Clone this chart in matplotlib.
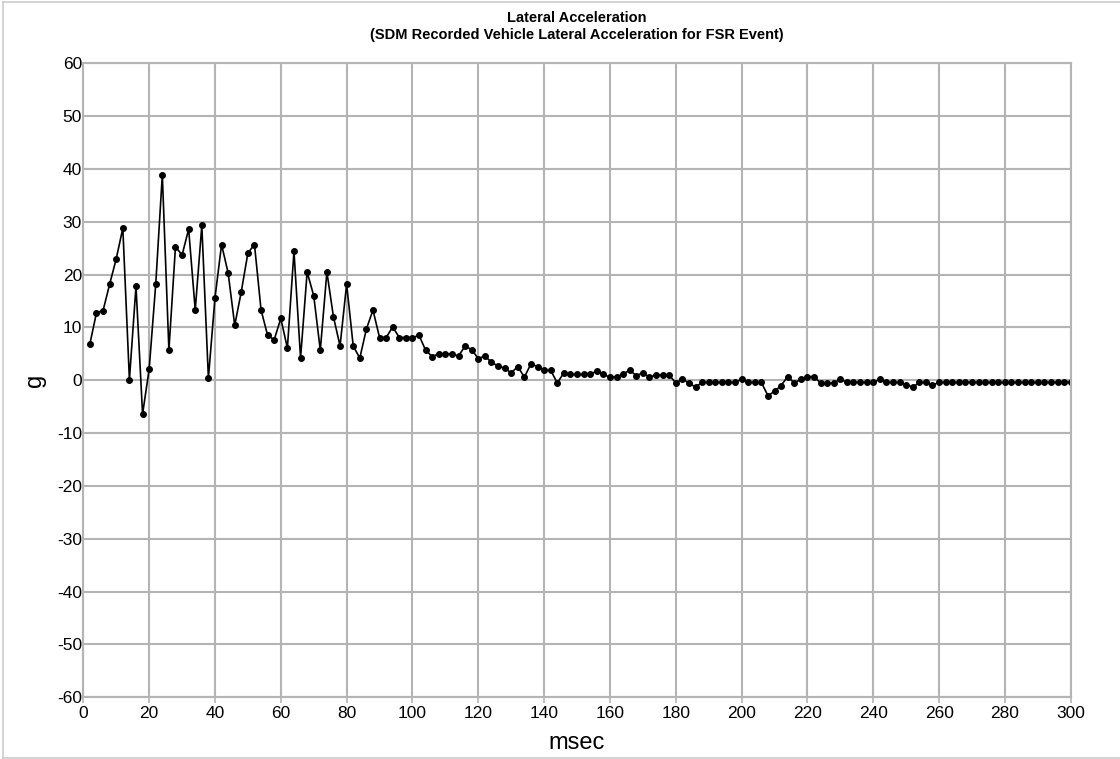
import numpy as np
import matplotlib.pyplot as plt
from matplotlib.lines import Line2D

# SDM lateral acceleration samples, every 2 msec
msec = np.arange(2, 301, 2)
lateral_g = [
    6.9, 12.8, 13.2, 18.2, 23.0, 28.8, 0.1, 17.8, -6.4, 2.1,
    18.2, 38.9, 5.7, 25.3, 23.7, 28.6, 13.3, 29.3, 0.4, 15.6,
    25.7, 20.3, 10.4, 16.8, 24.1, 25.7, 13.3, 8.5, 7.7, 11.7,
    6.1, 24.4, 4.2, 20.5, 16.0, 5.7, 20.5, 12.0, 6.5, 18.2,
    6.5, 4.2, 9.7, 13.3, 8.1, 8.1, 10.1, 8.1, 8.1, 8.1,
    8.5, 5.7, 4.5, 5.0, 5.0, 5.0, 4.6, 6.5, 5.8, 4.1,
    4.6, 3.4, 2.7, 2.3, 1.4, 2.6, 0.6, 3.1, 2.6, 1.9,
    1.9, -0.5, 1.4, 1.1, 1.1, 1.1, 1.1, 1.8, 1.1, 0.6,
    0.6, 1.2, 1.9, 0.9, 1.4, 0.6, 1.0, 1.0, 1.0, -0.5,
    0.2, -0.5, -1.3, -0.4, -0.4, -0.4, -0.4, -0.4, -0.4, 0.2,
    -0.4, -0.4, -0.4, -2.9, -2.1, -1.0, 0.7, -0.5, 0.2, 0.7,
    0.7, -0.5, -0.5, -0.5, 0.2, -0.4, -0.4, -0.4, -0.4, -0.4,
    0.2, -0.4, -0.4, -0.4, -0.8, -1.3, -0.4, -0.4, -0.9, -0.4,
    -0.4, -0.4, -0.4, -0.4, -0.4, -0.4, -0.4, -0.4, -0.4, -0.4,
    -0.4, -0.4, -0.4, -0.4, -0.4, -0.4, -0.4, -0.4, -0.4, -0.4,
]

x_ticks = list(range(0, 301, 20))
y_ticks = list(range(-60, 61, 10))

plt.rcParams['font.family'] = ['Liberation Sans', 'DejaVu Sans']
plt.rcParams['axes.unicode_minus'] = False
grid_color = '#b4b4b4'

fig = plt.figure(figsize=(11.2, 7.59), dpi=100)
ax = fig.add_axes([0.0744, 0.0813, 0.8816, 0.8353])

ax.plot(msec, lateral_g, color='black', linewidth=1.2, marker='o', markersize=4)

ax.set_xlim(0, 300)
ax.set_ylim(-60, 60)
ax.set_xticks(x_ticks)
ax.set_yticks(y_ticks)
ax.grid(True, color=grid_color, linewidth=1.5)
ax.set_axisbelow(True)
for s in ax.spines.values():
    s.set_color(grid_color)
    s.set_linewidth(1.5)
ax.tick_params(axis='x', length=4, color=grid_color, width=1.2, labelsize=12.5, pad=2)
ax.tick_params(axis='y', length=0, labelsize=12.5, pad=1)

ax.set_xlabel('msec', fontsize=17, labelpad=8)
ax.set_ylabel('g', fontsize=17, labelpad=8)

fig.text(0.515, 0.965, 'Lateral Acceleration\n(SDM Recorded Vehicle Lateral Acceleration for FSR Event)',
         ha='center', va='center', fontsize=10.5, fontweight='bold',
         family=['Liberation Sans Narrow', 'Liberation Sans'], linespacing=1.3)

# light frame around the figure
for xs, ys in [([0.003, 0.003], [0.0, 0.997]), ([0.003, 1.0], [0.997, 0.997]), ([0.003, 1.0], [0.001, 0.001])]:
    fig.add_artist(Line2D(xs, ys, color='#cccccc', linewidth=1.2, transform=fig.transFigure))

fig.savefig('out.png', dpi=100)
